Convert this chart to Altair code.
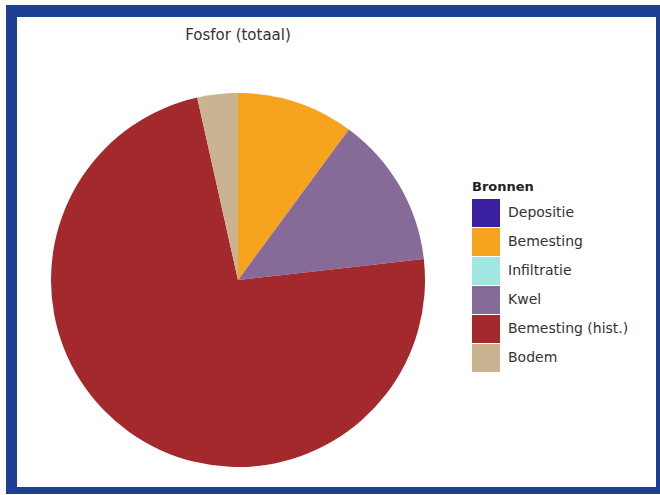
import altair as alt
import pandas as pd

bronnen = ["Depositie", "Bemesting", "Infiltratie", "Kwel", "Bemesting (hist.)", "Bodem"]
aandeel = [0.0, 10.1, 0.0, 13.1, 73.3, 3.5]
kleuren = ["#3b1fa3", "#f6a31d", "#a2e6e2", "#866a98", "#a3292c", "#c9b391"]
titel = "Fosfor (totaal)"

df = pd.DataFrame({"bron": bronnen, "waarde": aandeel, "volgorde": list(range(len(bronnen)))})

one = alt.Data(values=[{"t": titel}])

frame_outer = alt.Chart(one).mark_rect(fill="#1f3f95").encode(
    x=alt.value(6), x2=alt.value(660), y=alt.value(5), y2=alt.value(494)
)
frame_inner = alt.Chart(one).mark_rect(fill="white").encode(
    x=alt.value(17), x2=alt.value(656), y=alt.value(17), y2=alt.value(487)
)

pie = alt.Chart(df).mark_arc(radius=187).encode(
    theta=alt.Theta("waarde:Q", stack=True),
    color=alt.Color(
        "bron:N",
        sort=bronnen,
        scale=alt.Scale(domain=bronnen, range=kleuren),
        legend=alt.Legend(
            title="Bronnen",
            orient="none",
            legendX=472,
            legendY=181,
            symbolType="square",
            symbolSize=784,
            symbolStrokeWidth=0,
            symbolOpacity=1,
            rowPadding=1,
            labelOffset=8,
            labelFontSize=14,
            labelColor="#333333",
            labelFont="DejaVu Sans",
            titleFont="DejaVu Sans",
            titleFontSize=13,
            titleFontWeight="bold",
            titleColor="#222222",
            titlePadding=5,
            labelLimit=140,
        ),
    ),
    order=alt.Order("volgorde:Q"),
    x=alt.value(238),
    y=alt.value(280),
)

title_text = alt.Chart(one).mark_text(
    fontSize=15, font="DejaVu Sans", color="#333333", align="center", baseline="middle"
).encode(text="t:N", x=alt.value(238), y=alt.value(35))

chart = alt.layer(frame_outer, frame_inner, pie, title_text).properties(
    width=660,
    height=495,
    padding=0,
    autosize=alt.AutoSizeParams(type="none"),
    background="white",
).configure_view(stroke=None)

chart.save("out.html", embed_options={"renderer": "svg", "actions": False})
